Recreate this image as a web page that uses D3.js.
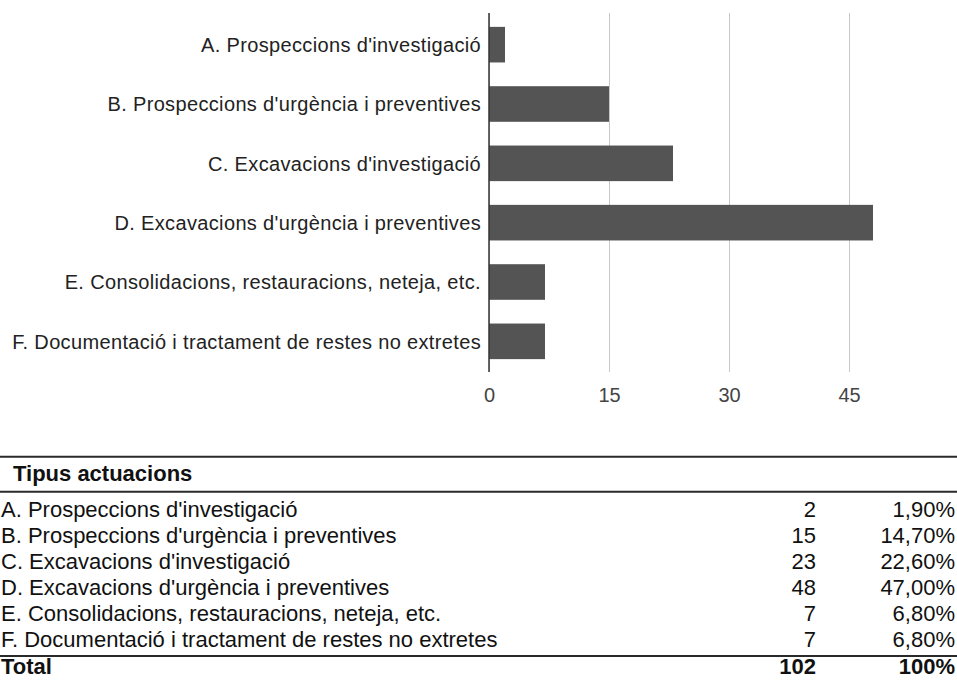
<!DOCTYPE html>
<html>
<head>
<meta charset="utf-8">
<script src="https://cdn.jsdelivr.net/npm/d3@7/dist/d3.min.js"></script>
<style>
  html, body { margin: 0; padding: 0; background: #fff; }
  svg { display: block; }
</style>
</head>
<body>
<svg id="chart" width="957" height="680"></svg>
<script>
// ---- data ----
const categories = [
  "A. Prospeccions d'investigació",
  "B. Prospeccions d'urgència i preventives",
  "C. Excavacions d'investigació",
  "D. Excavacions d'urgència i preventives",
  "E. Consolidacions, restauracions, neteja, etc.",
  "F. Documentació i tractament de restes no extretes"
];
const values = [2, 15, 23, 48, 7, 7];
const xTicks = [0, 15, 30, 45];
const percents = ["1,90%", "14,70%", "22,60%", "47,00%", "6,80%", "6,80%"];
const tableHeader = "Tipus actuacions";
const totalLabel = "Total";
const totalCount = "102";
const totalPercent = "100%";

// ---- chart ----
const svg = d3.select("#chart");
const FONT = "'Liberation Sans', Arial, Helvetica, sans-serif";

const plotTop = 13, plotBottom = 372;
const x = d3.scaleLinear().domain([0, 60]).range([489, 969]);
const y = d3.scaleBand().domain(categories).range([15, 371]).paddingInner(0.4).paddingOuter(0.2);

// gridlines + tick labels through axis
const xAxis = d3.axisBottom(x).tickValues(xTicks).tickSize(-(plotBottom - plotTop)).tickFormat(d3.format("d"));
const gx = svg.append("g").attr("transform", `translate(0,${plotBottom})`).call(xAxis);
gx.select(".domain").remove();
gx.selectAll(".tick line").attr("stroke", "#c8c8c8").attr("stroke-width", 1);
gx.selectAll(".tick text")
  .attr("y", 29.7).attr("dy", null)
  .attr("fill", "#444")
  .style("font-family", FONT).style("font-size", "20px");

// bars
svg.append("g").selectAll("rect").data(categories).join("rect")
  .attr("x", x(0))
  .attr("y", d => y(d))
  .attr("width", (d, i) => x(values[i]) - x(0))
  .attr("height", y.bandwidth())
  .attr("fill", "#545454");

// vertical axis line
svg.append("line")
  .attr("x1", x(0)).attr("x2", x(0))
  .attr("y1", plotTop).attr("y2", plotBottom)
  .attr("stroke", "#333").attr("stroke-width", 1.5);

// category labels
const yAxis = d3.axisLeft(y).tickSize(0).tickPadding(8);
const gy = svg.append("g").attr("transform", `translate(${x(0)},0)`).call(yAxis);
gy.select(".domain").remove();
gy.selectAll(".tick text")
  .attr("fill", "#222")
  .attr("dy", "0.36em")
  .style("font-family", FONT).style("font-size", "20px").style("letter-spacing", "0.35px");

// ---- table ----
const tbl = svg.append("g").style("font-family", FONT).style("font-size", "22px").attr("fill", "#111");
const W = 957;
const rowY = d3.scaleLinear().domain([0, 5]).range([517, 647]);
const countRight = 816, pctRight = 955;

[456.8, 491.8, 656].forEach(yy => {
  tbl.append("line").attr("x1", 0).attr("x2", W).attr("y1", yy).attr("y2", yy)
    .attr("stroke", "#2a2a2a").attr("stroke-width", 2);
});

tbl.append("text").attr("x", 13).attr("y", 481).style("font-weight", "bold").text(tableHeader);

tbl.selectAll("text.lbl").data(categories).join("text").attr("class", "lbl")
  .attr("x", 1).attr("y", (d, i) => rowY(i)).text(d => d);
tbl.selectAll("text.cnt").data(values).join("text").attr("class", "cnt")
  .attr("x", countRight).attr("y", (d, i) => rowY(i)).attr("text-anchor", "end").text(d => d);
tbl.selectAll("text.pct").data(percents).join("text").attr("class", "pct")
  .attr("x", pctRight).attr("y", (d, i) => rowY(i)).attr("text-anchor", "end").text(d => d);

const totalY = 674;
const tot = tbl.append("g").style("font-weight", "bold");
tot.append("text").attr("x", 1).attr("y", totalY).text(totalLabel);
tot.append("text").attr("x", countRight).attr("y", totalY).attr("text-anchor", "end").text(totalCount);
tot.append("text").attr("x", pctRight).attr("y", totalY).attr("text-anchor", "end").text(totalPercent);
</script>
</body>
</html>
